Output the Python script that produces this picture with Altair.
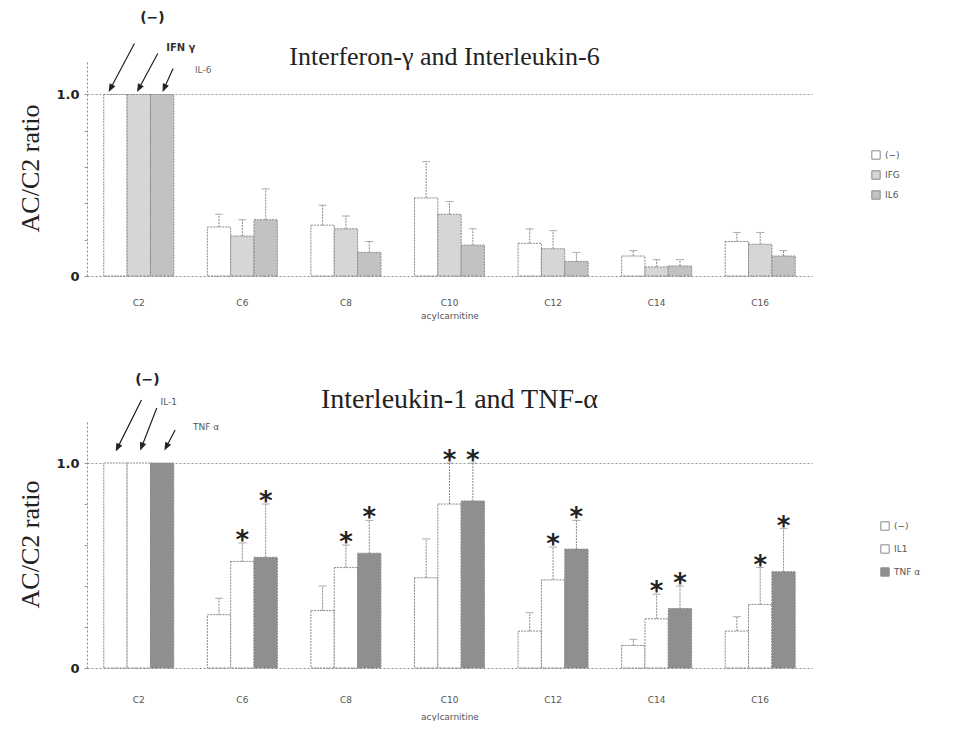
import math
import altair as alt
import pandas as pd

categories = ["C2", "C6", "C8", "C10", "C12", "C14", "C16"]

# ---- top panel: Interferon-gamma and Interleukin-6 ----
top_series = ["(−)", "IFG", "IL6"]
top_neg_mean = [1.0, 0.27, 0.28, 0.43, 0.18, 0.11, 0.19]
top_neg_upper = [None, 0.34, 0.39, 0.63, 0.26, 0.14, 0.24]
top_ifg_mean = [1.0, 0.22, 0.26, 0.34, 0.15, 0.05, 0.175]
top_ifg_upper = [None, 0.31, 0.33, 0.41, 0.25, 0.09, 0.24]
top_il6_mean = [1.0, 0.31, 0.13, 0.17, 0.08, 0.055, 0.11]
top_il6_upper = [None, 0.48, 0.19, 0.26, 0.13, 0.09, 0.14]
top_ann_labels = ["(−)", "IFN γ", "IL-6"]

# ---- bottom panel: Interleukin-1 and TNF-alpha ----
bot_series = ["(−)", "IL1", "TNF α"]
bot_neg_mean = [1.0, 0.26, 0.28, 0.44, 0.18, 0.11, 0.18]
bot_neg_upper = [None, 0.34, 0.40, 0.63, 0.27, 0.14, 0.25]
bot_il1_mean = [1.0, 0.52, 0.49, 0.80, 0.43, 0.24, 0.31]
bot_il1_upper = [None, 0.61, 0.60, 1.0, 0.59, 0.36, 0.49]
bot_tnf_mean = [1.0, 0.54, 0.56, 0.815, 0.58, 0.29, 0.47]
bot_tnf_upper = [None, 0.80, 0.72, 1.0, 0.72, 0.40, 0.68]
bot_il1_star = [False, True, True, True, True, True, True]
bot_tnf_star = [False, True, True, True, True, True, True]
bot_ann_labels = ["(−)", "IL-1", "TNF α"]


def build(series, means, uppers, stars):
    rows = []
    for s, m, u, st in zip(series, means, uppers, stars):
        for c, mv, uv, sv in zip(categories, m, u, st):
            rows.append({"category": c, "series": s, "mean": mv, "upper": uv, "star": sv})
    return pd.DataFrame(rows)


no_star = [False] * len(categories)
df_top = build(top_series,
               [top_neg_mean, top_ifg_mean, top_il6_mean],
               [top_neg_upper, top_ifg_upper, top_il6_upper],
               [no_star, no_star, no_star])
df_bot = build(bot_series,
               [bot_neg_mean, bot_il1_mean, bot_tnf_mean],
               [bot_neg_upper, bot_il1_upper, bot_tnf_upper],
               [no_star, bot_il1_star, bot_tnf_star])


def arrow_path(tip, tail, head=6.0, half=2.4):
    tx, ty = tip
    ux, uy = tail
    d = math.hypot(ux - tx, uy - ty)
    nx, ny = (ux - tx) / d, (uy - ty) / d
    bx, by = tx + nx * head, ty + ny * head
    px, py = -ny * half, nx * half
    return (f"M{ux:.1f},{uy:.1f}L{bx:.1f},{by:.1f}"
            f"M{tx:.1f},{ty:.1f}L{bx + px:.1f},{by + py:.1f}L{bx - px:.1f},{by - py:.1f}Z")


GRAY = "#8a8a8a"
PLOT_W = 725


def panel(df, series, colors, title_text, title_size, title_offset, title_dx, ymax, height,
          ann_labels, ann_style, legend_xy, legend_rowpad, label_pad, xtitle_pad):
    yscale = alt.Scale(domain=[0, ymax], nice=False, zero=True)
    yaxis = alt.Axis(
        title="AC/C2 ratio", values=[0, 0.2, 0.4, 0.6, 0.8, 1.0],
        labelExpr="datum.value == 0 ? '0' : (datum.value == 1 ? '1.0' : '')",
        labelFont="DejaVu Sans", labelFontSize=13, labelFontWeight="bold",
        labelColor="#222", labelPadding=5, tickSize=3, tickColor="#999",
        domainColor=GRAY, domainDash=[2, 2],
        grid=True, gridColor="#999", gridDash=[2, 2],
        gridOpacity={"condition": {"test": "datum.value == 1", "value": 1}, "value": 0},
        titleFont="Liberation Serif", titleFontSize=26, titleFontWeight="normal",
        titleColor="#222", titlePadding=12,
    )

    def Y(field):
        return alt.Y(field, scale=yscale, axis=yaxis)

    xenc = alt.X(
        "category:N", sort=categories,
        scale=alt.Scale(paddingInner=0.324, paddingOuter=0.162),
        axis=alt.Axis(
            title="acylcarnitine", labelAngle=0, tickSize=0,
            domainColor=GRAY, domainDash=[2, 2],
            labelFont="DejaVu Sans", labelFontSize=9, labelColor="#555",
            labelPadding=label_pad,
            titleFont="DejaVu Sans", titleFontSize=9, titleFontWeight="normal",
            titleColor="#555", titlePadding=xtitle_pad,
        ),
    )
    xoff = alt.XOffset("series:N", sort=series,
                       scale=alt.Scale(domain=series, paddingInner=0, paddingOuter=0))

    base = alt.Chart(df).encode(x=xenc, xOffset=xoff)

    bars = base.mark_bar(stroke=GRAY, strokeWidth=1, strokeDash=[2, 1]).encode(
        y=Y("mean:Q"),
        color=alt.Color(
            "series:N", sort=series,
            scale=alt.Scale(domain=series, range=colors),
            legend=alt.Legend(
                title=None, orient="none", legendX=legend_xy[0], legendY=legend_xy[1],
                symbolType="square", symbolSize=70, symbolStrokeColor=GRAY,
                symbolStrokeWidth=1, labelFont="DejaVu Sans", labelFontSize=9,
                labelColor="#555", rowPadding=legend_rowpad, padding=0,
            ),
        ),
    )
    errs = base.transform_filter("isValid(datum.upper)").mark_rule(
        color=GRAY, strokeWidth=1, strokeDash=[2, 1]
    ).encode(y=Y("mean:Q"), y2="upper:Q")
    caps = base.transform_filter("isValid(datum.upper)").mark_tick(
        color=GRAY, size=8, thickness=1
    ).encode(y=Y("upper:Q"))
    stars = base.transform_filter("datum.star").mark_text(
        text="*", font="DejaVu Sans", fontSize=26, fontWeight="bold",
        color="#222", baseline="alphabetic", dy=6
    ).encode(y=Y("upper:Q"))

    layers = [bars, errs, caps, stars]
    for s, lab, st in zip(series, ann_labels, ann_style):
        sel = base.transform_filter(
            f"datum.category == 'C2' && datum.series == '{s}'")
        layers.append(sel.mark_point(
            shape=arrow_path(st["tip"], st["tail"]), size=4, filled=True,
            fill="#222", stroke="#222", strokeWidth=1.2, opacity=1,
        ).encode(y=Y("mean:Q")))
        layers.append(sel.mark_text(
            text=lab, dx=st["lab"][0], dy=st["lab"][1], align="center",
            baseline="middle", font="DejaVu Sans", fontSize=st["size"],
            fontWeight=st["weight"], color=st["color"],
        ).encode(y=Y("mean:Q")))

    return alt.layer(*layers).properties(
        width=PLOT_W, height=height,
        title=alt.TitleParams(
            title_text, font="Liberation Serif", fontSize=title_size,
            fontWeight="normal", color="#222", offset=title_offset,
            baseline="alphabetic", anchor="middle", dx=title_dx,
        ),
    )


top_style = [
    {"tip": (-6, -4), "tail": (19, -51), "lab": (37, -76), "size": 14, "weight": "bold", "color": "#222"},
    {"tip": (-1, -4), "tail": (19, -41), "lab": (42, -46), "size": 10, "weight": "bold", "color": "#333"},
    {"tip": (1, -4), "tail": (11, -26), "lab": (41, -24), "size": 9, "weight": "normal", "color": "#666"},
]
bot_style = [
    {"tip": (1, -13), "tail": (26, -63), "lab": (32, -83), "size": 14, "weight": "bold", "color": "#222"},
    {"tip": (2, -14), "tail": (18, -55), "lab": (30, -61), "size": 9, "weight": "normal", "color": "#555"},
    {"tip": (3, -14), "tail": (13, -33), "lab": (44, -36), "size": 9, "weight": "normal", "color": "#555"},
]

top = panel(df_top, top_series, ["#ffffff", "#d6d6d6", "#c2c2c2"],
            "Interferon-γ and Interleukin-6", 26, -80, -5, 1.19, 216,
            top_ann_labels, top_style, (784, 90), 6, 22, 4)
bot = panel(df_bot, bot_series, ["#ffffff", "#ffffff", "#8f8f8f"],
            "Interleukin-1 and TNF-α", 28, -63, 10, 1.21, 248,
            bot_ann_labels, bot_style, (793, 101), 9, 27, 8)

chart = alt.vconcat(top, bot, spacing=53).resolve_scale(
    color="independent", xOffset="independent"
).properties(
    padding={"left": 9, "top": 3, "right": 5, "bottom": 0}
).configure_view(stroke=None)

chart.save("out.html", embed_options={"renderer": "svg", "actions": False})
